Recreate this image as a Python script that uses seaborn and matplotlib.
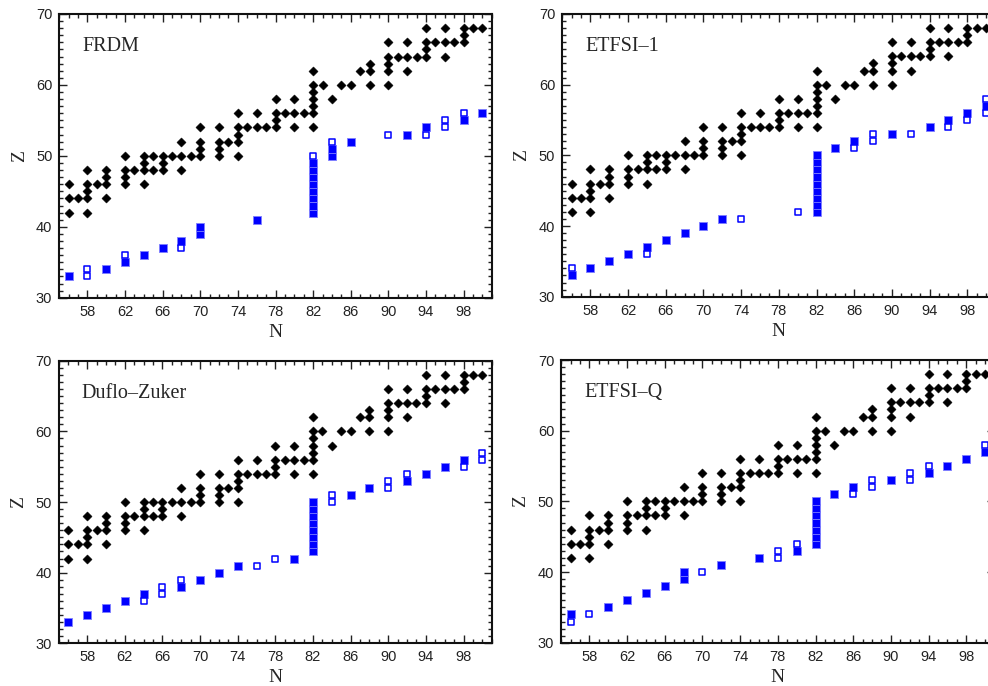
import matplotlib
matplotlib.use("Agg")
import matplotlib.pyplot as plt
from matplotlib.ticker import MultipleLocator, FixedLocator
import seaborn as sns

# Known (measured) nuclei: neutron number N and proton number Z
exp_N = [56, 56, 56, 57, 58, 58, 58, 58, 58, 59, 60, 60, 60, 60,
         62, 62, 62, 62, 63, 64, 64, 64, 64, 65, 65, 66, 66, 66, 67,
         68, 68, 68, 69, 70, 70, 70, 70, 72, 72, 72, 72, 73,
         74, 74, 74, 74, 74, 75, 76, 76, 77, 78, 78, 78, 78, 79,
         80, 80, 80, 81, 82, 82, 82, 82, 82, 82, 82, 83, 84, 85, 86, 87,
         88, 88, 88, 90, 90, 90, 90, 90, 91, 92, 92, 92, 93,
         94, 94, 94, 94, 95, 96, 96, 96, 97, 98, 98, 98, 99, 100]
exp_Z = [42, 44, 46, 44, 42, 44, 45, 46, 48, 46, 44, 46, 47, 48,
         46, 47, 48, 50, 48, 46, 48, 49, 50, 48, 50, 48, 49, 50, 50,
         48, 50, 52, 50, 50, 51, 52, 54, 50, 51, 52, 54, 52,
         50, 52, 53, 54, 56, 54, 54, 56, 54, 54, 55, 56, 58, 56,
         54, 56, 58, 56, 54, 56, 57, 58, 59, 60, 62, 60, 58, 60, 60, 62,
         60, 62, 63, 60, 62, 63, 64, 66, 64, 62, 64, 66, 64,
         64, 65, 66, 68, 66, 64, 66, 68, 66, 66, 67, 68, 68, 68]

# FRDM
frdm_fill_N = [56, 60, 62, 64, 66, 68, 70, 70, 76, 82, 82, 82, 82, 82, 82, 82, 82,
               84, 84, 86, 92, 94, 98, 100]
frdm_fill_Z = [33, 34, 35, 36, 37, 38, 39, 40, 41, 42, 43, 44, 45, 46, 47, 48, 49,
               50, 51, 52, 53, 54, 55, 56]
frdm_open_N = [58, 58, 62, 68, 82, 84, 90, 94, 96, 96, 98]
frdm_open_Z = [33, 34, 36, 37, 50, 52, 53, 53, 54, 55, 56]

# ETFSI-1
etfsi1_fill_N = [56, 58, 60, 62, 64, 66, 68, 70, 72, 82, 82, 82, 82, 82, 82, 82, 82, 82,
                 84, 86, 90, 94, 96, 98, 100]
etfsi1_fill_Z = [33, 34, 35, 36, 37, 38, 39, 40, 41, 42, 43, 44, 45, 46, 47, 48, 49, 50,
                 51, 52, 53, 54, 55, 56, 57]
etfsi1_open_N = [56, 64, 74, 80, 86, 88, 88, 92, 96, 98, 100, 100]
etfsi1_open_Z = [34, 36, 41, 42, 51, 52, 53, 53, 54, 55, 56, 58]

# Duflo-Zuker
dz_fill_N = [56, 58, 60, 62, 64, 68, 70, 72, 74, 80, 82, 82, 82, 82, 82, 82, 82, 82,
             86, 88, 92, 94, 96, 98]
dz_fill_Z = [33, 34, 35, 36, 37, 38, 39, 40, 41, 42, 43, 44, 45, 46, 47, 48, 49, 50,
             51, 52, 53, 54, 55, 56]
dz_open_N = [64, 66, 66, 68, 76, 78, 84, 84, 90, 90, 92, 98, 100, 100]
dz_open_Z = [36, 37, 38, 39, 41, 42, 50, 51, 52, 53, 54, 55, 56, 57]

# ETFSI-Q
etfsiq_fill_N = [56, 60, 62, 64, 66, 68, 68, 72, 76, 80, 82, 82, 82, 82, 82, 82, 82,
                 84, 86, 90, 94, 96, 98, 100]
etfsiq_fill_Z = [34, 35, 36, 37, 38, 39, 40, 41, 42, 43, 44, 45, 46, 47, 48, 49, 50,
                 51, 52, 53, 54, 55, 56, 57]
etfsiq_open_N = [56, 58, 70, 78, 78, 80, 86, 88, 88, 92, 92, 94, 100]
etfsiq_open_Z = [33, 34, 40, 42, 43, 44, 51, 52, 53, 53, 54, 55, 58]

panel_names = ["FRDM", "ETFSI\u20131", "Duflo\u2013Zuker", "ETFSI\u2013Q"]
fill_N = [frdm_fill_N, etfsi1_fill_N, dz_fill_N, etfsiq_fill_N]
fill_Z = [frdm_fill_Z, etfsi1_fill_Z, dz_fill_Z, etfsiq_fill_Z]
open_N = [frdm_open_N, etfsi1_open_N, dz_open_N, etfsiq_open_N]
open_Z = [frdm_open_Z, etfsi1_open_Z, dz_open_Z, etfsiq_open_Z]

x_major = [58, 62, 66, 70, 74, 78, 82, 86, 90, 94, 98]
y_major = [30, 40, 50, 60, 70]

sns.set_style("ticks")
plt.rcParams["font.family"] = ["Liberation Sans", "DejaVu Sans"]
serif = ["Liberation Serif", "DejaVu Serif"]

fig = plt.figure(figsize=(9.88, 6.86), dpi=100)
boxes = [
    [0.0600, 0.5660, 0.4377, 0.4136],
    [0.5690, 0.5675, 0.4386, 0.4121],
    [0.0597, 0.0622, 0.4380, 0.4119],
    [0.5680, 0.0631, 0.4386, 0.4121],
]

for i, box in enumerate(boxes):
    ax = fig.add_axes(box)
    sns.scatterplot(x=exp_N, y=exp_Z, marker="D", s=22, color="black",
                    edgecolor="black", linewidth=0.3, ax=ax, zorder=3)
    sns.scatterplot(x=fill_N[i], y=fill_Z[i], marker="s", s=30, color="#0000ff",
                    edgecolor="#7f7fff", linewidth=0.6, ax=ax, zorder=4)
    sns.scatterplot(x=open_N[i], y=open_Z[i], marker="s", s=24, color="white",
                    edgecolor="#0000ff", linewidth=1.1, ax=ax, zorder=5)

    ax.set_xlim(55, 101)
    ax.set_ylim(30, 70)
    ax.xaxis.set_major_locator(FixedLocator(x_major))
    ax.xaxis.set_minor_locator(MultipleLocator(1))
    ax.yaxis.set_major_locator(FixedLocator(y_major))
    ax.yaxis.set_minor_locator(MultipleLocator(1))
    ax.tick_params(which="both", direction="in", top=True, right=True,
                   width=1.0, color="#222222")
    ax.tick_params(which="major", length=5.5, labelsize=10.5, pad=5)
    ax.tick_params(which="minor", length=3)
    for lab in ax.get_xticklabels() + ax.get_yticklabels():
        lab.set_color("#222222")
    for sp in ax.spines.values():
        sp.set_linewidth(1.5)
        sp.set_color("#111111")

    ax.set_xlabel("N", family=serif, fontsize=14, labelpad=3.5)
    ax.set_ylabel("Z", family=serif, fontsize=14, labelpad=6)
    ax.text(0.053, 0.885, panel_names[i], transform=ax.transAxes,
            family=serif, fontsize=14.5, va="center", ha="left")

fig.savefig("out.png", dpi=100)
